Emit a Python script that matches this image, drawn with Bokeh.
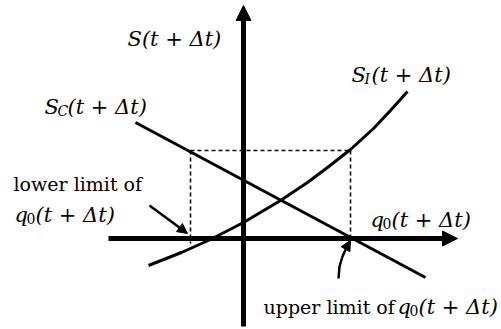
import numpy as np
from bokeh.plotting import figure
from bokeh.models import Range1d, ColumnDataSource, Arrow, NormalHead
from bokeh.core.properties import value
from bokeh.embed import file_html
from bokeh.resources import INLINE

# ---- data (schematic coordinates, origin at the crossing of the two axes) ----
h_axis_x = [-135, 214]
h_axis_y = [0, 0]
v_axis_x = [0, 0]
v_axis_y = [-88, 233]

# S_C(t+dt): falling straight line
sc_x = [-108, 182]
sc_y = [116, -39]

# S_I(t+dt): rising convex curve
si_x = [-95, -62, -33, 0, 37, 64, 84, 107, 130, 147, 164]
si_y = [-27, -14, -1, 16, 38, 56, 71, 89, 110, 128, 147]

# limits of q0 and the level joining them
q_lower = -53
q_upper = 107
s_level = 88

# pointer arrows
lower_ptr_x = [-94, -56]
lower_ptr_y = [33, 5]
upper_ptr_x = [95, 96, 99, 103]
upper_ptr_y = [-40, -28, -18, -9]
upper_tip = [107, -2]

# texts
texts = ["S(t + Δt)",
         "S", "C", "(t + Δt)",
         "S", "I", "(t + Δt)",
         "q", "0", "(t + Δt)",
         "lower limit of",
         "q", "0", "(t + Δt)",
         "upper limit of",
         "q", "0", "(t + Δt)"]

# ---- layout of the texts ----
tx = [-116, -199, -186, -176, 108, 121, 128, 127, 139, 148,
      -230, -229, -217, -208, 20, 154, 166, 175]
ty = [200, 132, 128, 132, 164, 160, 164, 19, 15, 19,
      55, 24, 20, 24, -68, -68, -72, -68]
tstyle = ["italic", "italic", "italic", "italic", "italic", "italic", "italic",
          "italic", "normal", "italic", "normal", "italic", "normal", "italic",
          "normal", "italic", "normal", "italic"]
tsize = ["21px", "21px", "14px", "21px", "21px", "14px", "21px", "21px", "14px",
         "21px", "19px", "21px", "14px", "21px", "19px", "21px", "14px", "21px"]

p = figure(width=501, height=329, x_range=Range1d(-243, 258), y_range=Range1d(-91, 238),
           output_backend="svg", toolbar_location=None,
           x_axis_type=None, y_axis_type=None, min_border=0,
           outline_line_color=None, background_fill_color="white")

# dashed guides
p.multi_line(xs=[[q_lower, q_upper], [q_lower, q_lower], [q_upper, q_upper]],
             ys=[[s_level, s_level], [s_level, -5], [s_level, 0]],
             line_color="black", line_width=1.6, line_dash="4 3")

# curves
p.line(sc_x, sc_y, line_color="black", line_width=3, line_join="round")
p.line(si_x, si_y, line_color="black", line_width=3, line_join="round")

# axes with arrow heads
axes_src = ColumnDataSource(dict(x0=[h_axis_x[0], v_axis_x[0]], y0=[h_axis_y[0], v_axis_y[0]],
                                 x1=[h_axis_x[1], v_axis_x[1]], y1=[h_axis_y[1], v_axis_y[1]]))
p.add_layout(Arrow(source=axes_src, x_start="x0", y_start="y0", x_end="x1", y_end="y1",
                   line_width=5, line_color="black",
                   end=NormalHead(size=15, fill_color="black", line_color="black", line_width=1)))

# pointer arrows
p.add_layout(Arrow(x_start=lower_ptr_x[0], y_start=lower_ptr_y[0],
                   x_end=lower_ptr_x[1], y_end=lower_ptr_y[1],
                   line_width=2.5, line_color="black",
                   end=NormalHead(size=10, fill_color="black", line_color="black", line_width=1)))
p.line(upper_ptr_x, upper_ptr_y, line_color="black", line_width=2.5, line_join="round")
p.add_layout(Arrow(x_start=upper_ptr_x[-1], y_start=upper_ptr_y[-1],
                   x_end=upper_tip[0], y_end=upper_tip[1],
                   line_width=2.5, line_color="black",
                   end=NormalHead(size=10, fill_color="black", line_color="black", line_width=1)))

src = ColumnDataSource(dict(x=tx, y=ty, text=texts, fstyle=tstyle, fsize=tsize))
p.text(x="x", y="y", text="text", source=src, text_font=value("DejaVu Serif"),
       text_font_size="fsize", text_font_style="fstyle", text_color="black",
       text_align="left", text_baseline="alphabetic")

open("out.html", "w").write(file_html(p, INLINE))
